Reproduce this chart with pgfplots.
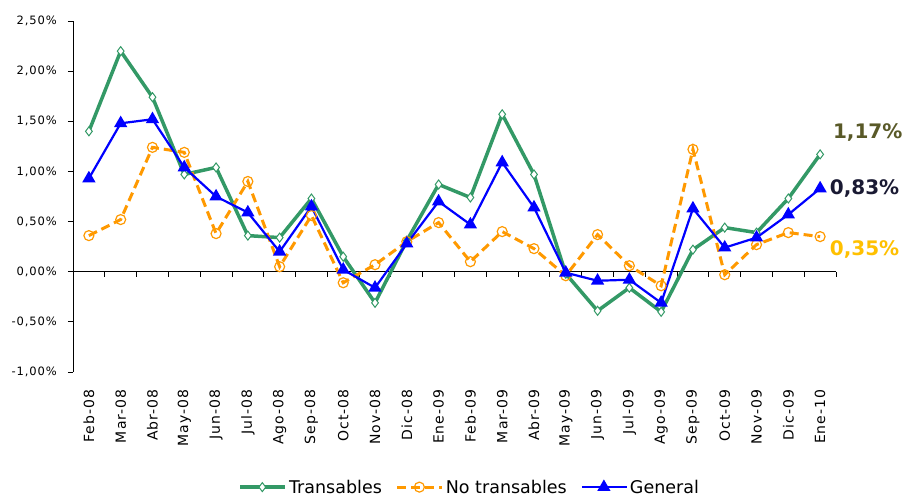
\documentclass[border=0pt]{standalone}
\usepackage{pgfplots}
\pgfplotsset{compat=1.18}
\usepackage{pgfplotstable}
\usepackage{fontspec}
\setmainfont{DejaVu Sans}
\newfontfamily\tickfont[LetterSpace=8]{DejaVu Sans}
\definecolor{cGreen}{HTML}{339966}
\definecolor{cOrange}{HTML}{FF9900}
\definecolor{cBlue}{HTML}{0000FF}
\definecolor{cOlive}{HTML}{595928}
\definecolor{cNavy}{HTML}{1A1A33}
\definecolor{cGold}{HTML}{FFC000}

\pgfplotstableread{
idx T N G
0 1.40 0.36 0.93
1 2.20 0.52 1.48
2 1.74 1.24 1.52
3 0.97 1.19 1.04
4 1.04 0.38 0.75
5 0.36 0.90 0.59
6 0.34 0.05 0.20
7 0.73 0.56 0.65
8 0.15 -0.11 0.02
9 -0.31 0.07 -0.16
10 0.31 0.30 0.28
11 0.87 0.49 0.70
12 0.74 0.10 0.47
13 1.57 0.40 1.09
14 0.97 0.23 0.64
15 -0.02 -0.04 -0.01
16 -0.39 0.37 -0.09
17 -0.16 0.06 -0.08
18 -0.40 -0.14 -0.31
19 0.22 1.22 0.63
20 0.44 -0.03 0.24
21 0.39 0.27 0.34
22 0.73 0.39 0.57
23 1.17 0.35 0.83
}\datatable

\begin{document}
\begin{tikzpicture}
\pgfplotsset{
  common/.style={
    width=763bp, height=351bp, scale only axis,
    xmin=-0.5, xmax=23.5, ymin=-1, ymax=2.5,
  }
}
% axis with category labels (bottom)
\begin{axis}[common,
  hide y axis,
  axis x line=bottom,
  x axis line style={draw=none},
  xtick={0,...,23},
  xticklabels={Feb-08,Mar-08,Abr-08,May-08,Jun-08,Jul-08,Ago-08,Sep-08,Oct-08,Nov-08,Dic-08,Ene-09,Feb-09,Mar-09,Abr-09,May-09,Jun-09,Jul-09,Ago-09,Sep-09,Oct-09,Nov-09,Dic-09,Ene-10},
  xtick style={draw=none},
  major tick length=0pt,
  xticklabel style={rotate=90, anchor=east, inner sep=0pt, font=\tickfont\fontsize{14bp}{16bp}\selectfont},
  xticklabel shift=17bp,
]
\end{axis}
% main axis
\begin{axis}[common, name=main,
  axis x line=middle,
  axis y line=left,
  axis line style={-, draw=black, line width=0.9bp},
  xtick={0.5,1.5,...,23.5},
  xticklabels={},
  ytick={-1,-0.5,0,0.5,1,1.5,2,2.5},
  yticklabels={{-1,00\%},{-0,50\%},{0,00\%},{0,50\%},{1,00\%},{1,50\%},{2,00\%},{2,50\%}},
  yticklabel style={font=\tickfont\fontsize{11.5bp}{13bp}\selectfont, inner sep=0pt},
  yticklabel shift=11bp,
  tick align=outside,
  major tick length=5bp,
  tick style={draw=black, line width=0.9bp},
  clip=false,
  legend columns=3,
  legend style={draw=none, fill=none, at={(0.52,-0.328)}, anchor=center,
    font=\fontsize{17.5bp}{19bp}\selectfont, inner sep=0pt,
    /tikz/every even column/.append style={column sep=12bp}},
  legend image code/.code={\draw[mark repeat=2, mark phase=2, #1] plot coordinates {(0bp,0bp) (22bp,0bp) (45bp,0bp)};},
]
\addplot[cGreen, line width=3.5bp, mark=diamond*, mark size=4.5bp,
  mark options={solid, fill=white, draw=cGreen, line width=1bp}]
  table[x=idx, y=T] {\datatable};
\addlegendentry{Transables}
\addplot[cOrange, line width=3bp, dash pattern=on 9bp off 5bp, mark=o, mark size=5bp,
  mark options={solid, fill=white, draw=cOrange, line width=1.2bp}]
  table[x=idx, y=N] {\datatable};
\addlegendentry{No transables}
\addplot[cBlue, line width=2.2bp, mark=triangle*, mark size=5.5bp,
  mark options={solid, fill=cBlue, draw=cBlue}]
  table[x=idx, y=G] {\datatable};
\addlegendentry{General}

\node[anchor=west, inner sep=0pt, text=cOlive, font=\bfseries\fontsize{20bp}{22bp}\selectfont] at (axis cs:23.4,1.39) {1,17\%};
\node[anchor=west, inner sep=0pt, text=cNavy, font=\bfseries\fontsize{20bp}{22bp}\selectfont] at (axis cs:23.3,0.83) {0,83\%};
\node[anchor=west, inner sep=0pt, text=cGold, font=\bfseries\fontsize{20bp}{22bp}\selectfont] at (axis cs:23.3,0.22) {0,35\%};
\end{axis}
\pgfresetboundingbox
\path (main.south west) ++(-73bp,-124bp) rectangle ++(903bp,496bp);
\end{tikzpicture}
\end{document}
